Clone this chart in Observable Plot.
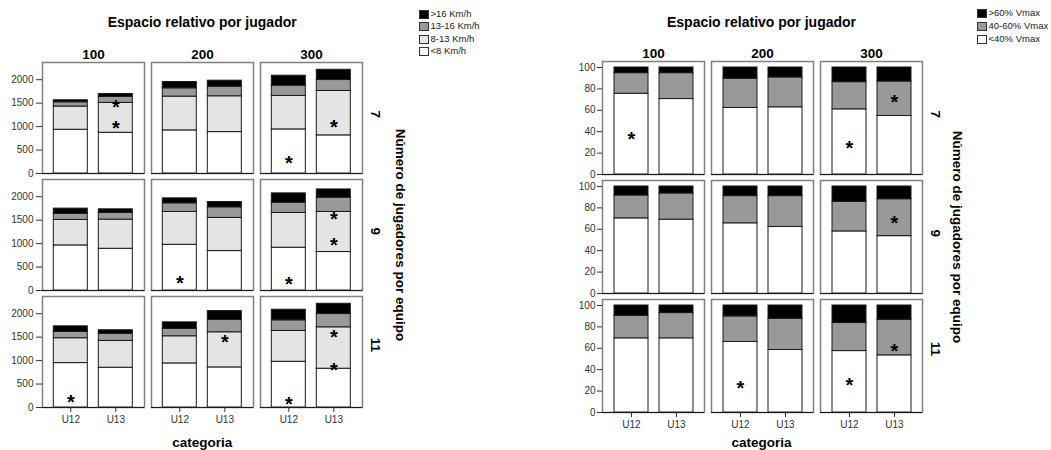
<!DOCTYPE html>
<html>
<head>
<meta charset="utf-8">
<script src="https://cdn.jsdelivr.net/npm/d3@7"></script>
<script src="https://cdn.jsdelivr.net/npm/@observablehq/plot@0.6"></script>
<style>
  body { margin: 0; background: #fff; }
  #wrap { position: relative; width: 1051px; height: 450px; overflow: hidden;
          font-family: Arial, "Liberation Sans", sans-serif; }
  .plot { position: absolute; top: 0; }
  .t { position: absolute; white-space: nowrap; color: #000; font-weight: bold;
       transform: translate(-50%, -50%); line-height: 1; }
  .vt { transform: translate(-50%, -50%) rotate(90deg); }
  .sw { position: absolute; width: 8px; height: 7px; border: 1px solid #333; }
  .lt { position: absolute; font-size: 9.5px; color: #222; white-space: nowrap; line-height: 1; }
</style>
</head>
<body>
<div id="wrap"></div>
<script>
// Facets
const espacios = ["100", "200", "300"];   // espacio relativo por jugador
const jugadores = ["7", "9", "11"];       // número de jugadores por equipo
const categorias = ["U12", "U13"];

// Distance by speed zone (m); order of values: jugadores × espacio × categoria
const zonasKmh = ["<8 Km/h", "8-13 Km/h", "13-16 Km/h", ">16 Km/h"];
const coloresKmh = ["#ffffff", "#e4e4e4", "#999999", "#000000"];
const menos8  = [933, 869, 919, 883, 940, 813,  961, 890, 975, 841, 912, 820,  947, 848, 940, 855, 975, 827];
const de8a13  = [495, 636, 721, 764, 714, 947,  544, 622, 700, 707, 742, 855,  530, 572, 579, 749, 657, 883];
const de13a16 = [ 91, 127, 176, 205, 219, 233,  127, 142, 184, 226, 219, 304,  134, 149, 156, 262, 227, 283];
const mas16   = [ 43,  64, 134, 127, 212, 219,  114,  77, 106, 113, 198, 176,  120,  78, 141, 190, 226, 219];

// Share of time by % of maximal speed (%); same order
const zonasVmax = ["<40% Vmax", "40-60% Vmax", ">60% Vmax"];
const coloresVmax = ["#ffffff", "#999999", "#000000"];
const menos40 = [75.5, 70.5, 62.2, 62.8, 60.9, 54.7,  70.2, 69.0, 65.6, 62.2, 58.0, 53.6,  69.3, 69.3, 65.9, 58.4, 57.4, 53.4];
const de40a60 = [19.2, 24.2, 27.3, 27.9, 25.4, 32.2,  21.4, 24.5, 25.4, 28.8, 27.6, 34.5,  21.1, 23.6, 23.9, 29.2, 26.2, 33.3];
const mas60   = [ 5.3,  5.3, 10.5,  9.3, 13.7, 13.1,   8.4,  6.5,  9.0,  9.0, 14.4, 11.9,   9.6,  7.1, 10.2, 12.4, 16.4, 13.3];

// Significance markers: [jugadores, espacio, categoria, y]
const sigKmh = [
  ["7", "100", "U13", 1505], ["7", "100", "U13", 1067], ["7", "300", "U12", 318], ["7", "300", "U13", 1095],
  ["9", "200", "U12", 261], ["9", "300", "U12", 226], ["9", "300", "U13", 1625], ["9", "300", "U13", 1060],
  ["11", "100", "U12", 219], ["11", "200", "U13", 1484], ["11", "300", "U12", 177], ["11", "300", "U13", 1604], ["11", "300", "U13", 898]
];
const sigVmax = [
  ["7", "100", "U12", 37.4], ["7", "300", "U12", 28.7], ["7", "300", "U13", 72.1],
  ["9", "300", "U13", 69.9],
  ["11", "200", "U12", 26.8], ["11", "300", "U12", 30.2], ["11", "300", "U13", 61.2]
];

const font = 'Arial, "Liberation Sans", sans-serif';

// Long table: one row per stacked segment
function tabla(zonas, series) {
  const rows = [];
  let i = 0;
  for (const j of jugadores) for (const e of espacios) for (const c of categorias) {
    zonas.forEach((z, k) => rows.push({jug: j, esp: e, cat: c, zona: z, valor: series[k][i]}));
    i++;
  }
  return rows;
}

function grafico(o) {
  return Plot.plot({
    width: o.width, height: 450,
    marginLeft: o.marginLeft, marginRight: o.marginRight,
    marginTop: o.marginTop, marginBottom: o.marginBottom,
    style: {fontFamily: font, background: "transparent", overflow: "visible"},
    fx: {domain: espacios, paddingInner: 0.0685, paddingOuter: 0, axis: null},
    fy: {domain: jugadores, paddingInner: o.fyPad, paddingOuter: 0, axis: null},
    x: {domain: categorias, padding: 0.245, axis: null},
    y: {domain: [0, o.yMax], axis: null},
    color: {domain: o.zonas, range: o.colores},
    marks: [
      Plot.frame({stroke: "#808080", strokeWidth: 1.5}),
      Plot.barY(o.data, {x: "cat", y: "valor", fill: "zona", fx: "esp", fy: "jug",
                         stroke: "#1a1a1a", strokeWidth: 1}),
      Plot.ruleY([0], {stroke: "#1a1a1a", strokeWidth: 1.2}),
      Plot.axisY({ticks: o.yTicks, tickSize: o.tickSize, tickPadding: o.tickPadding,
                  tickFormat: d => String(d), fontSize: 10, color: "#333", label: null}),
      Plot.axisX({tickSize: 5, tickPadding: 3, fontSize: 10, color: "#333", label: null}),
      Plot.text(o.sig, {x: d => d[2], y: d => d[3], fx: d => d[1], fy: d => d[0],
                        text: () => "*", fontSize: 20, fontWeight: "bold", dy: 5}),
      Plot.text(espacios, {fx: d => d, fy: () => jugadores[0], frameAnchor: "top", dy: -13,
                           text: d => d, fontSize: 13.5, fontWeight: "bold"}),
      Plot.text(jugadores, {fy: d => d, fx: () => espacios[espacios.length - 1], frameAnchor: "right",
                            dx: 13, rotate: 90, text: d => d, fontSize: 13.5, fontWeight: "bold"})
    ]
  });
}

const wrap = document.getElementById("wrap");

function colocar(svg, left) {
  svg.classList.add("plot");
  svg.style.left = left + "px";
  wrap.appendChild(svg);
}

function texto(str, x, y, size, vertical) {
  const d = document.createElement("div");
  d.className = "t" + (vertical ? " vt" : "");
  d.style.left = x + "px";
  d.style.top = y + "px";
  d.style.fontSize = size + "px";
  d.textContent = str;
  wrap.appendChild(d);
}

function leyenda(zonas, colores, x, yTop, paso) {
  const items = zonas.map((z, k) => [z, colores[k]]).reverse();
  items.forEach(([z, c], k) => {
    const cy = yTop + k * paso;
    const s = document.createElement("div");
    s.className = "sw";
    s.style.left = x + "px";
    s.style.top = (cy - 4) + "px";
    s.style.background = c;
    wrap.appendChild(s);
    const t = document.createElement("div");
    t.className = "lt";
    t.style.left = (x + 11.5) + "px";
    t.style.top = (cy - 5) + "px";
    t.textContent = z;
    wrap.appendChild(t);
  });
}

// Left: distances by km/h zone
colocar(grafico({
  data: tabla(zonasKmh, [menos8, de8a13, de13a16, mas16]),
  zonas: zonasKmh, colores: coloresKmh, sig: sigKmh,
  width: 520, marginLeft: 41.7, marginRight: 520 - 362.7, marginTop: 60.7, marginBottom: 450 - 408.3,
  fyPad: 0.0542, yMax: 2367, yTicks: [0, 500, 1000, 1500, 2000], tickSize: 6, tickPadding: 3
}), 0);

// Right: percentages by % Vmax
colocar(grafico({
  data: tabla(zonasVmax, [menos40, de40a60, mas60]),
  zonas: zonasVmax, colores: coloresVmax, sig: sigVmax,
  width: 531, marginLeft: 601 - 520, marginRight: 1051 - 922, marginTop: 60.7, marginBottom: 450 - 412.5,
  fyPad: 0.047, yMax: 105.6, yTicks: [0, 20, 40, 60, 80, 100], tickSize: 5, tickPadding: 2
}), 520);

texto("Espacio relativo por jugador", 202.2, 22, 14);
texto("categoria", 202.2, 443, 13.5);
texto("Número de jugadores por equipo", 400, 234.5, 13.5, true);

texto("Espacio relativo por jugador", 761.5, 22, 14);
texto("categoria", 761.5, 442.5, 13.5);
texto("Número de jugadores por equipo", 957, 236.6, 13.5, true);

leyenda(zonasKmh, coloresKmh, 419, 13.7, 12.4);
leyenda(zonasVmax, coloresVmax, 977, 13.3, 12.7);
</script>
</body>
</html>
